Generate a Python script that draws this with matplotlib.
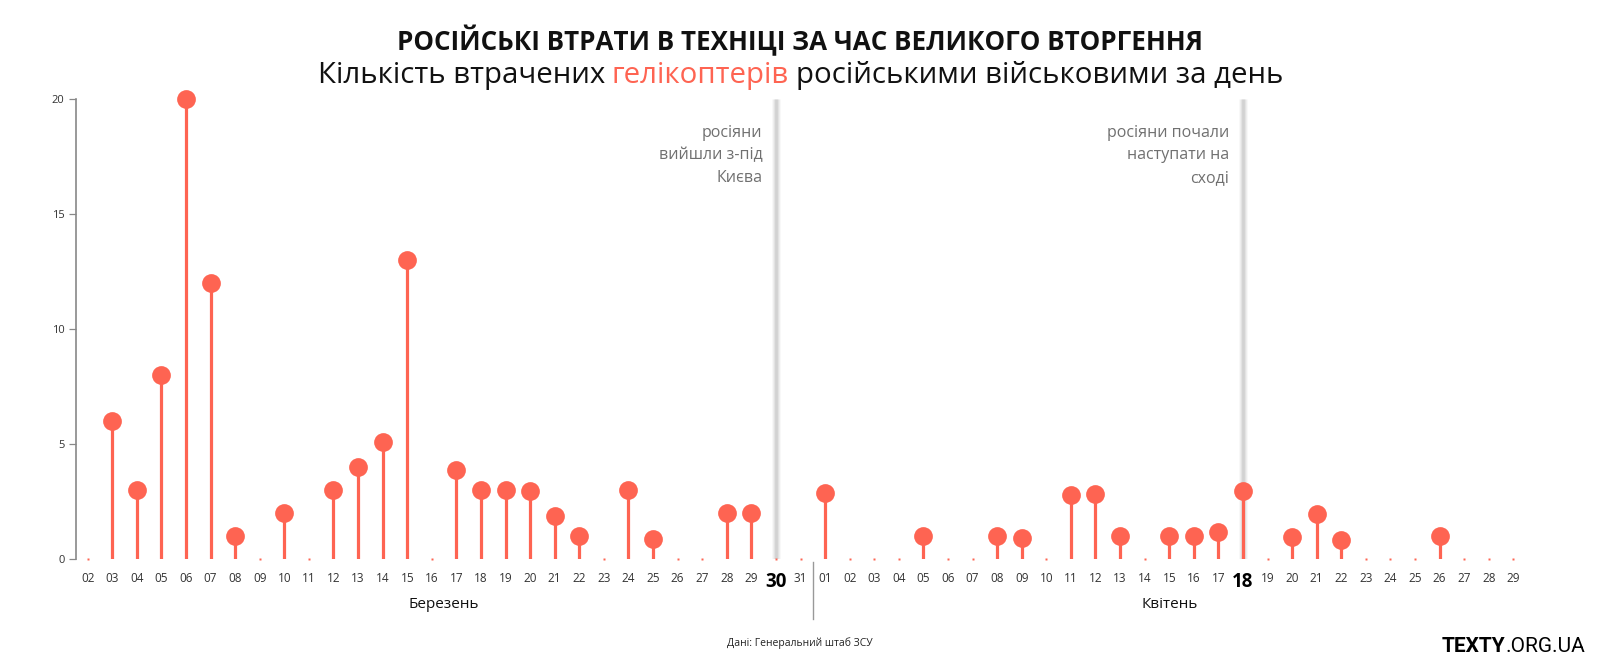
import numpy as np
import matplotlib.pyplot as plt

plt.rcParams["font.family"] = ["Open Sans", "DejaVu Sans"]

# data: helicopters lost per day
march_days = ["02", "03", "04", "05", "06", "07", "08", "09", "10", "11",
              "12", "13", "14", "15", "16", "17", "18", "19", "20", "21",
              "22", "23", "24", "25", "26", "27", "28", "29", "30", "31"]
march_losses = [0, 6, 3, 8, 20, 12, 1, 0, 2, 0,
                3, 4, 5.1, 13, 0, 3.9, 3, 3, 2.95, 1.9,
                1, 0, 3, 0.88, 0, 0, 2, 2, 0, 0]

april_days = ["01", "02", "03", "04", "05", "06", "07", "08", "09", "10",
              "11", "12", "13", "14", "15", "16", "17", "18", "19", "20",
              "21", "22", "23", "24", "25", "26", "27", "28", "29"]
april_losses = [2.9, 0, 0, 0, 1, 0, 0, 1, 0.92, 0,
                2.8, 2.82, 1, 0, 1, 1, 1.2, 2.95, 0, 0.95,
                1.95, 0.86, 0, 0, 0, 1, 0, 0, 0]

month_names = ["Березень", "Квітень"]
event_days = [("Березень", "30"), ("Квітень", "18")]
event_notes = ["росіяни\nвийшли з-під\nКиєва", "росіяни почали\nнаступати на\nсході"]

title = "РОСІЙСЬКІ ВТРАТИ В ТЕХНІЦІ ЗА ЧАС ВЕЛИКОГО ВТОРГЕННЯ"
subtitle_parts = ["Кількість втрачених", "гелікоптерів", "російськими військовими за день"]
source = "Дані: Генеральний штаб ЗСУ"

RED = "#fe6452"
DARK = "#111111"
GREY = "#707070"

W, H = 1600, 668
fig = plt.figure(figsize=(W / 100, H / 100), dpi=100)

# axes placed in pixels
left, right, bottom, top = 75.5, 1530, H - 559.3, H - 99.3
ax = fig.add_axes([left / W, bottom / H, (right - left) / W, (top - bottom) / H])

labels = march_days + april_days
values = np.array(march_losses + april_losses, dtype=float)
x = np.arange(len(labels))
n_march = len(march_days)

step = 24.58
ax.set_xlim(-(87.7 - left) / step, (right - left) / step - (87.7 - left) / step)
ax.set_ylim(0, 20)

# event highlight lines
for (month, day), note in zip(event_days, event_notes):
    idx = labels.index(day, 0 if month == month_names[0] else n_march)
    for lw, a in [(6.5, 0.10), (5, 0.18), (3.5, 0.3), (2, 0.5)]:
        ax.plot([idx, idx], [0, 20], color="#c4c4c4", lw=lw, alpha=a,
                solid_capstyle="butt", zorder=1)
    ax.text(idx - 0.55, 18.9, note, ha="right", va="top", fontsize=11.5,
            color=GREY, linespacing=1.55, zorder=3)

pos = values > 0
ax.vlines(x[pos], 0, values[pos], color=RED, lw=2.3, zorder=2)
ax.plot(x[pos], values[pos], "o", ms=13.5, color=RED, mec="none",
        clip_on=False, zorder=4)
ax.plot(x[~pos], values[~pos], "s", ms=1.6, color=RED, mec="none",
        clip_on=False, zorder=2)

# axes styling
for s in ["top", "right", "bottom"]:
    ax.spines[s].set_visible(False)
ax.spines["left"].set_color("#888888")
ax.spines["left"].set_linewidth(1.2)
ax.set_yticks([0, 5, 10, 15, 20])
ax.tick_params(axis="y", length=5, width=0.9, color="#888888", pad=3,
               labelsize=8, labelcolor="#333333")
ax.set_xticks(x)
ax.set_xticklabels(labels)
ax.tick_params(axis="x", length=0, pad=9, labelsize=8.5, labelcolor="#333333")
for (month, day) in event_days:
    idx = labels.index(day, 0 if month == month_names[0] else n_march)
    lab = ax.get_xticklabels()[idx]
    lab.set_fontsize(13.5)
    lab.set_fontweight("bold")
    lab.set_color("#000000")

# month separator and names
ax.plot([n_march - 0.5, n_march - 0.5], [-0.12, -2.6], color="#999999",
        lw=1, clip_on=False)
ax.text((n_march - 1) / 2, -1.98, month_names[0], ha="center", va="center",
        fontsize=11, color=DARK)
ax.text(n_march + (len(april_days) - 1) / 2, -1.98, month_names[1],
        ha="center", va="center", fontsize=11, color=DARK)

renderer = fig.canvas.get_renderer()


def fit(t, target):
    w = t.get_window_extent(renderer).width
    t.set_fontsize(t.get_fontsize() * target / w)


# title
t = fig.text(0.5, 1 - 41 / H, title, ha="center", va="center",
             fontsize=17, fontweight="bold", color=DARK)
fit(t, 805)

# subtitle with one coloured word
sub_size = 19
pieces = [fig.text(0, 1 - 75 / H, p, ha="left", va="center", fontsize=sub_size,
                   color=c)
          for p, c in zip(subtitle_parts, [DARK, RED, DARK])]
space = (fig.text(0, 0, "н н", fontsize=sub_size).get_window_extent(renderer).width
         - fig.text(0, 0, "нн", fontsize=sub_size).get_window_extent(renderer).width)
fig.texts[-1].remove()
fig.texts[-1].remove()
widths = [p.get_window_extent(renderer).width for p in pieces]
total = sum(widths) + space * (len(pieces) - 1)
scale = 965 / total
for p in pieces:
    p.set_fontsize(sub_size * scale)
widths = [w * scale for w in widths]
space *= scale
xpos = 800 - 965 / 2
for p, w in zip(pieces, widths):
    p.set_x(xpos / W)
    xpos += w + space

# source and logo
fig.text(0.5, 1 - 643 / H, source, ha="center", va="center", fontsize=7.5,
         color="#222222")
logo_b = fig.text(0, 1 - 646 / H, "TEXTY", ha="left", va="center",
                  fontsize=15, fontweight="bold", color="#000000",
                  family=["Roboto", "DejaVu Sans"])
logo_r = fig.text(0, 1 - 646 / H, ".ORG.UA", ha="left", va="center",
                  fontsize=15, color="#000000", family=["Roboto", "DejaVu Sans"])
wb = logo_b.get_window_extent(renderer).width
wr = logo_r.get_window_extent(renderer).width
logo_r.set_x((1585 - wr) / W)
logo_b.set_x((1585 - wr - wb) / W)

fig.savefig("out.png", dpi=100, facecolor="white")
